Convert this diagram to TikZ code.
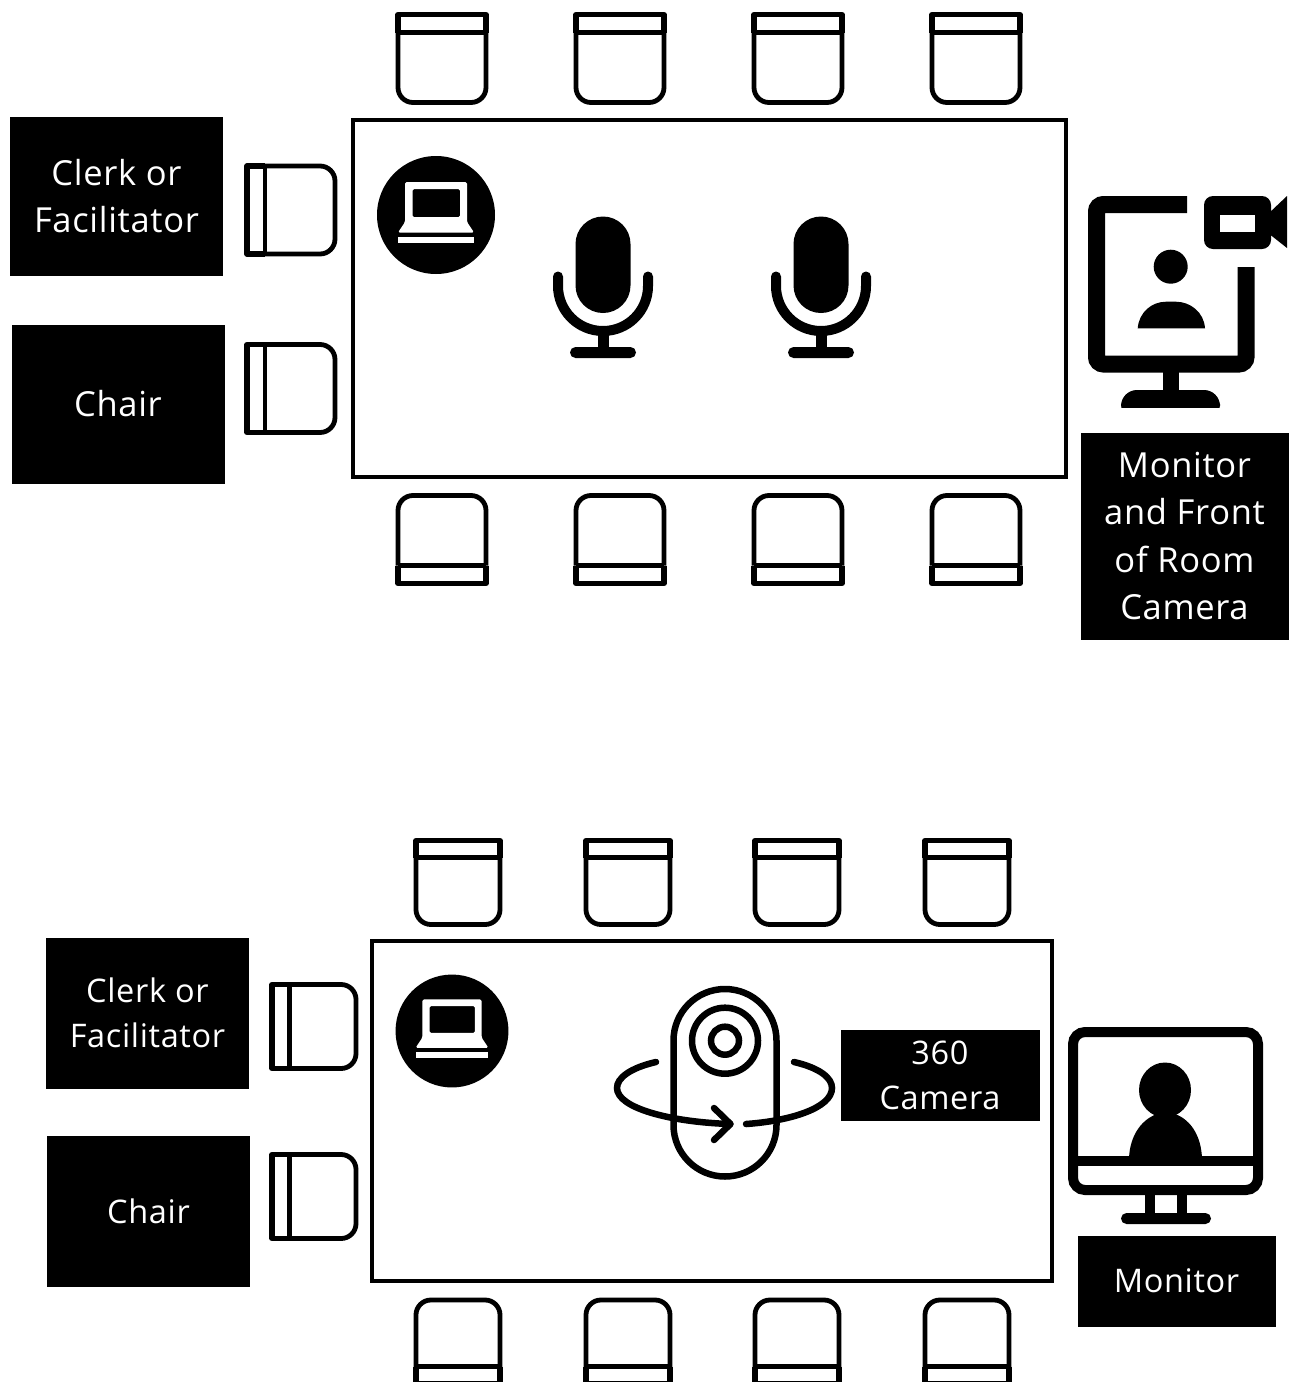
\documentclass[tikz,border=0pt]{standalone}
\usepackage{fontspec}
\setmainfont{Open Sans}[LetterSpace=2]
\tikzset{
  x=1pt,y=-1pt,
  blackbox/.style={fill=black,text=white,inner sep=0pt,align=center,font=\fontsize{34.5}{47.5}\selectfont},
  blacksmall/.style={blackbox,font=\fontsize{32.5}{45}\selectfont},
  tableline/.style={draw=black,line width=4.4pt,line join=miter},
  seatline/.style={draw=black,line width=4.8pt,line join=round},
  pics/seat/.style={code={
    \draw[seatline,line width=5.2pt] (-44,-26) -- (-44,-44) -- (44,-44) -- (44,-26);
    \draw[seatline] (-44,-26) -- (44,-26);
    \draw[seatline,rounded corners=15pt] (-44,-26) -- (-44,44) -- (44,44) -- (44,-26);
  }},
  pics/laptop/.style={code={
    \fill[black] (0,0) circle[radius=59];
    \fill[white,even odd rule,rounded corners=1.5pt]
      (-31,-33) -- (31,-33) -- (31,7) -- (38,17.5) -- (-38,17.5) -- (-31,7) -- cycle
      (-23.5,-26) -- (24,-26) -- (24,2) -- (-23.5,2) -- cycle;
    \fill[white] (-38,21.5) rectangle (38,28);
  }},
  pics/mic/.style={code={
    \fill[black,rounded corners=27.5pt] (-27.5,-69.5) rectangle (27.5,27);
    \draw[black,line width=10pt,line cap=round] (-45,-9.5) -- (-45,0) arc[start angle=180,end angle=360,x radius=45pt,y radius=45pt] -- (45,-9.5);
    \fill[black] (-5.5,45) rectangle (5.5,64);
    \fill[black,rounded corners=5.5pt] (-33,61) rectangle (33,72);
  }}
}
\begin{document}
\begin{tikzpicture}
\clip (0,0) rectangle (1297,1382);
\fill[white] (0,0) rectangle (1297,1382);

% ---------- upper room
\node[tableline,minimum width=713pt,minimum height=357pt,inner sep=0pt] (tableA) at (709.5,298.5) {};
\foreach \cx in {442,620,798,976}{
  \pic at (\cx,58.5) {seat};
  \pic[rotate=180] at (\cx,539.5) {seat};
}
\pic[rotate=90] at (291,210) {seat};
\pic[rotate=90] at (291,388.5) {seat};
\pic at (436,215) {laptop};
\pic at (603,286) {mic};
\pic at (821,286) {mic};

\node[blackbox,minimum width=213pt,minimum height=159pt] (clerkA) at (116.5,196) {Clerk or\\Facilitator};
\node[blackbox,minimum width=213pt,minimum height=159pt] (chairA) at (118,404) {Chair};
\node[blackbox,minimum width=208pt,minimum height=207pt] (monitorA) at (1184.5,536) {Monitor\\and Front\\of Room\\Camera};

% front-of-room monitor with camera
\draw[black,line width=17pt,rounded corners=7pt] (1187,204.5) -- (1096.5,204.5) -- (1096.5,364) -- (1246,364) -- (1246,267);
\fill[black] (1163,370) rectangle (1179,395);
\fill[black,rounded corners=16pt] (1121,420) -- (1121,390) -- (1220,390) -- (1220,420) -- cycle;
\fill[white] (1110,408) rectangle (1230,425);
\fill[black] (1170.7,266.7) circle[radius=17];
\fill[black] (1137.7,328.3) .. controls (1139,312) and (1152,301.7) .. (1166,301.7) -- (1176,301.7) .. controls (1190,301.7) and (1204,312) .. (1205,328.3) -- cycle;
\fill[black,rounded corners=9pt] (1204,196) -- (1271,196) -- (1271,249) -- (1204,249) -- cycle;
\fill[white] (1220,215) rectangle (1255,232);
\fill[black] (1268,214) -- (1287,196) -- (1287,248) -- (1268,233) -- cycle;

% ---------- lower room
\node[tableline,minimum width=680pt,minimum height=340pt,inner sep=0pt] (tableB) at (712,1111) {};
\foreach \cx in {458,628,797,967}{
  \pic[scale=.955] at (\cx,882.5) {seat};
  \pic[rotate=180,scale=.955] at (\cx,1342) {seat};
}
\pic[rotate=90,scale=.955] at (314,1026.5) {seat};
\pic[rotate=90,scale=.955] at (314,1196.5) {seat};
\pic[scale=.957] at (452,1031) {laptop};

\node[blacksmall,minimum width=203.5pt,minimum height=151pt] (clerkB) at (147.5,1013) {Clerk or\\Facilitator};
\node[blacksmall,minimum width=203.5pt,minimum height=151pt] (chairB) at (148.5,1211) {Chair};
\node[blacksmall,minimum width=199pt,minimum height=91pt] (camB) at (940,1075) {360\\Camera};
\node[blacksmall,minimum width=198pt,minimum height=91pt] (monitorB) at (1176.5,1281) {Monitor};

% 360 camera
\draw[black,line width=6.5pt,rounded corners=51.5pt] (673.5,989) rectangle (776.5,1176.5);
\draw[black,line width=6.5pt] (725,1040.7) circle[radius=33];
\draw[black,line width=6.5pt] (725,1040.7) circle[radius=14];
\draw[black,line width=6.5pt,line cap=round] (656,1062) .. controls (630,1068) and (617,1078) .. (617,1088) .. controls (617,1108) and (670,1122) .. (730,1124);
\draw[black,line width=6.5pt,line cap=round] (794,1062) .. controls (820,1068) and (832,1078) .. (832,1088) .. controls (832,1108) and (790,1121) .. (746,1124);
\draw[black,line width=6.5pt,line cap=round,line join=round] (714,1108) -- (730.5,1124) -- (714,1140);

% lower monitor
\draw[black,line width=10pt,rounded corners=12pt] (1073,1032) rectangle (1258,1190);
\draw[black,line width=10pt] (1073,1160.5) -- (1258,1160.5);
\fill[black] (1165,1090) ellipse[x radius=26,y radius=27.5];
\fill[black] (1129,1158) .. controls (1130,1135) and (1142,1118) .. (1160,1113) -- (1172,1113) .. controls (1190,1118) and (1201,1135) .. (1202,1158) -- cycle;
\fill[black] (1145,1193) rectangle (1154.5,1216);
\fill[black] (1177,1193) rectangle (1186.5,1216);
\fill[black,rounded corners=5.5pt] (1121,1213) rectangle (1211,1224);
\end{tikzpicture}
\end{document}
